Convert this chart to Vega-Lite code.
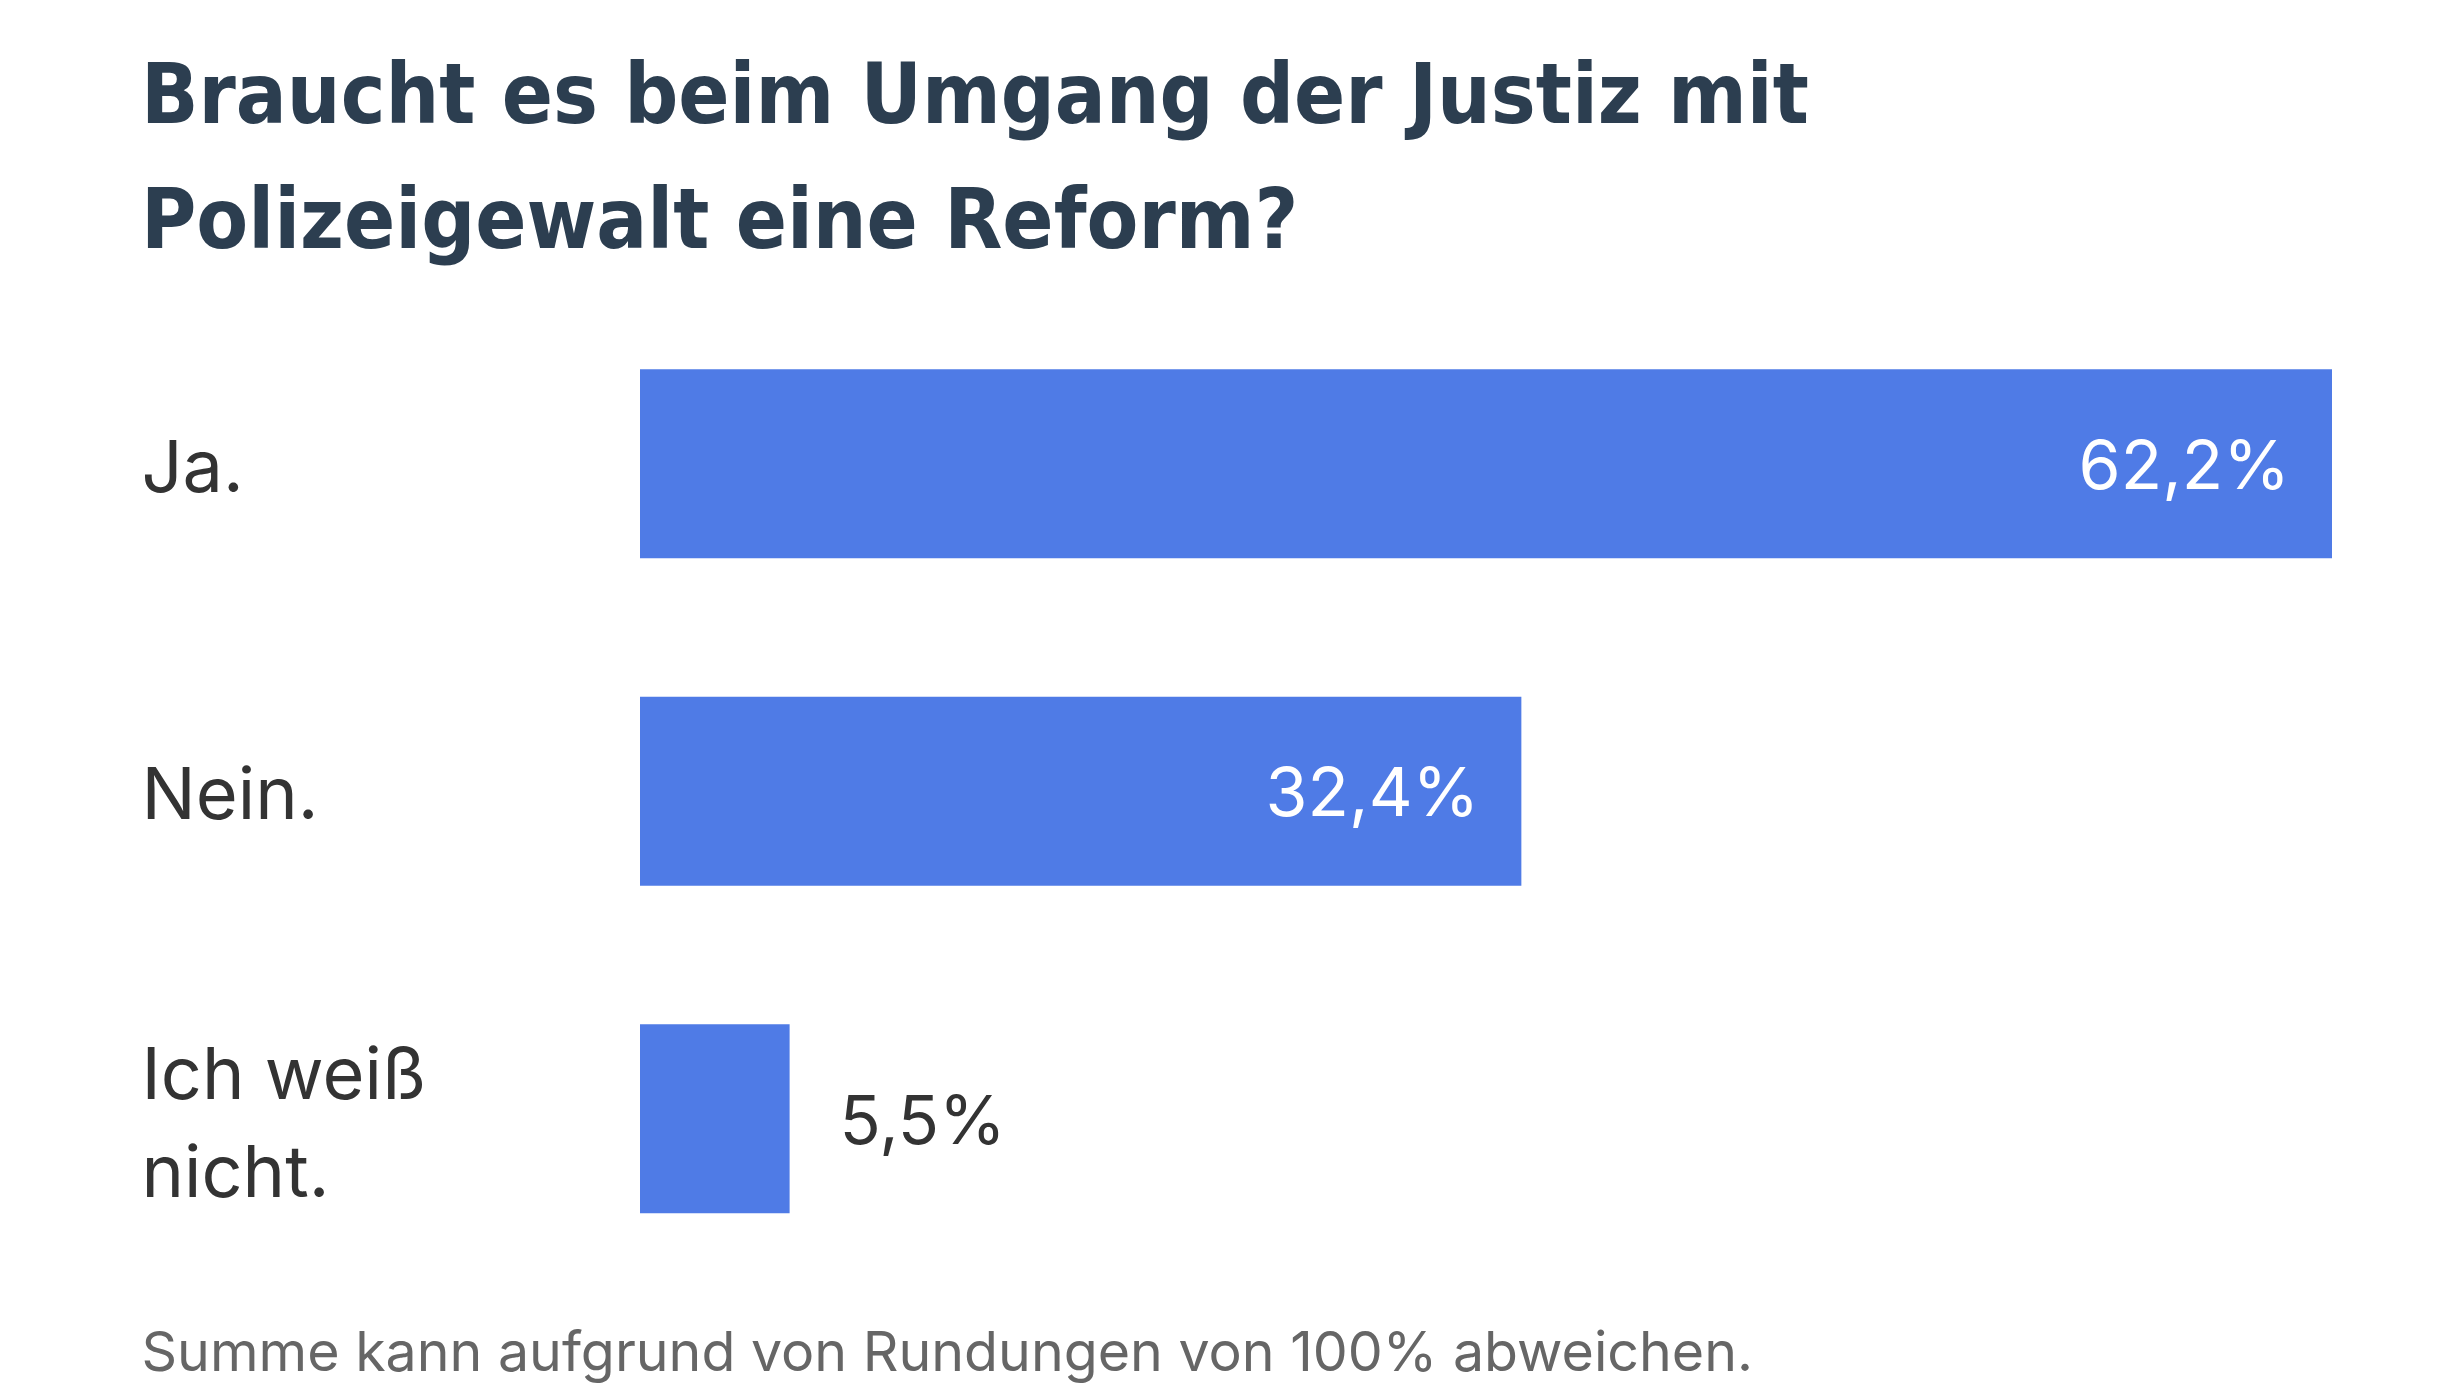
{
  "$schema": "https://vega.github.io/schema/vega-lite/v6.json",
  "width": 1692,
  "height": 982.5,
  "autosize": {"type": "none"},
  "padding": {"left": 640, "top": 300, "right": 120, "bottom": 101.5},
  "background": "white",
  "title": {
    "text": ["Braucht es beim Umgang der Justiz mit", "Polizeigewalt eine Reform?"],
    "anchor": "start",
    "frame": "group",
    "dx": -499,
    "offset": 34,
    "font": "DejaVu Sans Condensed",
    "fontWeight": "bold",
    "fontSize": 84,
    "lineHeight": 125,
    "color": "#2c3e50"
  },
  "data": {
    "values": [
      {"answer": "Ja.", "share": 62.2, "label": "62,2%"},
      {"answer": "Nein.", "share": 32.4, "label": "32,4%"},
      {"answer": "Ich weiß nicht.", "share": 5.5, "label": "5,5%"}
    ]
  },
  "encoding": {
    "y": {
      "field": "answer",
      "type": "nominal",
      "sort": null,
      "scale": {"paddingInner": 0.423, "paddingOuter": 0.2115},
      "axis": {
        "title": null,
        "domain": false,
        "ticks": false,
        "labelAlign": "left",
        "labelBaseline": "middle",
        "labelPadding": 499,
        "labelFont": "Inter",
        "labelFontSize": 72,
        "labelColor": "#333333",
        "labelLimit": 0,
        "labelLineHeight": 98,
        "labelOffset": {"condition": {"test": "datum.value == 'Ich weiß nicht.'", "value": -42}, "value": 6},
        "labelExpr": "datum.value == 'Ich weiß nicht.' ? ['Ich weiß', 'nicht.'] : datum.value"
      }
    },
    "x": {
      "field": "share",
      "type": "quantitative",
      "scale": {"domain": [0, 62.2], "nice": false, "zero": true},
      "axis": {
        "labels": false,
        "ticks": false,
        "domain": false,
        "grid": false,
        "title": "Summe kann aufgrund von Rundungen von 100% abweichen.",
        "titleX": -499,
        "titleY": 87.5,
        "titleAlign": "left",
        "titleAnchor": null,
        "titleBaseline": "alphabetic",
        "titleFont": "Inter",
        "titleFontSize": 55.5,
        "titleFontWeight": "normal",
        "titleColor": "#666666"
      }
    }
  },
  "layer": [
    {"mark": {"type": "bar", "color": "#4f7be6"}},
    {
      "transform": [{"filter": "datum.share >= 10"}],
      "mark": {"type": "text", "align": "right", "baseline": "middle", "dx": -42, "dy": 5, "color": "#ffffff", "font": "Inter", "fontSize": 68},
      "encoding": {"text": {"field": "label"}}
    },
    {
      "transform": [{"filter": "datum.share < 10"}],
      "mark": {"type": "text", "align": "left", "baseline": "middle", "dx": 50, "dy": 5, "color": "#333333", "font": "Inter", "fontSize": 68},
      "encoding": {"text": {"field": "label"}}
    }
  ],
  "config": {"view": {"stroke": null}}
}
